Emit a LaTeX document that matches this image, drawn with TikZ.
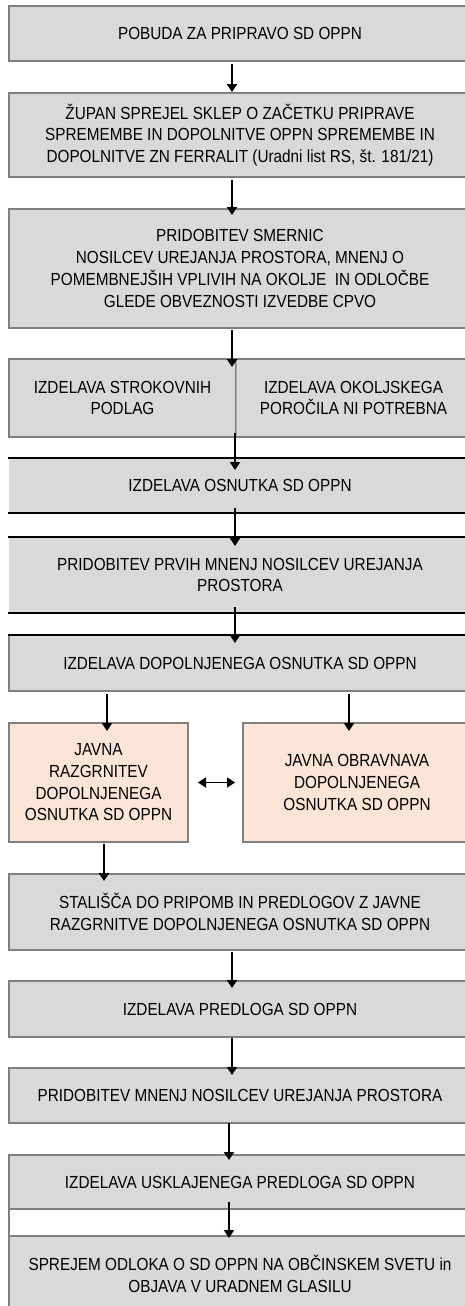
\documentclass[tikz,border=0pt]{standalone}
\usepackage{fontspec}
\setmainfont{Liberation Sans}[FakeStretch=0.875]
\usetikzlibrary{arrows.meta,calc}
\definecolor{boxgray}{HTML}{D9D9D9}
\definecolor{bordergray}{HTML}{808080}
\definecolor{pinkfill}{HTML}{FCE4D6}
\definecolor{divgray}{HTML}{A6A6A6}
\begin{document}
\begin{tikzpicture}[x=1pt,y=-1pt,
  base/.style={inner sep=0pt, outer sep=0pt, align=center, anchor=center,
    font=\fontsize{17.5}{21.7}\selectfont},
  stepbox/.style={base, draw=bordergray, line width=1.6pt, fill=boxgray},
  flatbox/.style={base, draw=none, fill=boxgray},
  pinkbox/.style={base, draw=bordergray, line width=1.6pt, fill=pinkfill},
  blackline/.style={line width=1.8pt, black},
  arr/.style={line width=1.8pt, black, -{Triangle[length=8pt,width=10pt]}},
  dblarr/.style={line width=1.8pt, black, {Triangle[length=8pt,width=10pt]}-{Triangle[length=8pt,width=10pt]}}
]
\useasboundingbox (0,0) rectangle (465,1306);
\fill[white] (0,0) rectangle (465,1306);
\clip (0,0) rectangle (465,1306);

% boxes
\node[stepbox, minimum width=462pt, minimum height=55pt] (b1) at (240,33.5) {POBUDA ZA PRIPRAVO SD OPPN};
\node[stepbox, minimum width=462pt, minimum height=84pt] (b2) at (240,135) {ŽUPAN SPREJEL SKLEP O ZAČETKU PRIPRAVE\\SPREMEMBE IN DOPOLNITVE OPPN SPREMEMBE IN\\DOPOLNITVE ZN FERRALIT (Uradni list RS, št. 181/21)};
\node[stepbox, minimum width=462pt, minimum height=119pt] (b3) at (240,268.5) {PRIDOBITEV SMERNIC\\NOSILCEV UREJANJA PROSTORA, MNENJ O\\POMEMBNEJŠIH VPLIVIH NA OKOLJE\ \ IN ODLOČBE\\GLEDE OBVEZNOSTI IZVEDBE CPVO};
\node[stepbox, minimum width=227pt, minimum height=78pt] (b4L) at (122.5,398) {IZDELAVA STROKOVNIH\\PODLAG};
\node[stepbox, minimum width=235pt, minimum height=78pt] (b4R) at (353.5,398) {IZDELAVA OKOLJSKEGA\\POROČILA NI POTREBNA};
\draw[divgray, line width=1pt] (b4L.north east) -- (b4L.south east);
\node[flatbox, minimum width=462pt, minimum height=55pt] (b5) at (240,485.5) {IZDELAVA OSNUTKA SD OPPN};
\node[flatbox, minimum width=462pt, minimum height=76pt] (b6) at (240,575) {PRIDOBITEV PRVIH MNENJ NOSILCEV UREJANJA\\PROSTORA};
\node[stepbox, minimum width=462pt, minimum height=56pt] (b7) at (240,663) {IZDELAVA DOPOLNJENEGA OSNUTKA SD OPPN};
\draw[blackline] ($(b5.north west)+(-1,0)$) -- (b5.north east);
\draw[blackline] ($(b5.south west)+(-1,0)$) -- (b5.south east);
\draw[blackline] ($(b6.north west)+(-1,0)$) -- (b6.north east);
\draw[blackline] ($(b6.south west)+(-1,0)$) -- (b6.south east);
\draw[blackline] ($(b7.north west)+(-1,0)$) -- (b7.north east);
\node[pinkbox, minimum width=179pt, minimum height=119pt] (b8) at (98.5,782.5) {JAVNA\\RAZGRNITEV\\DOPOLNJENEGA\\OSNUTKA SD OPPN};
\node[pinkbox, minimum width=228pt, minimum height=119pt] (b9) at (357,782.5) {JAVNA OBRAVNAVA\\DOPOLNJENEGA\\OSNUTKA SD OPPN};
\node[stepbox, minimum width=462pt, minimum height=76pt] (b10) at (240,912) {STALIŠČA DO PRIPOMB IN PREDLOGOV Z JAVNE\\RAZGRNITVE DOPOLNJENEGA OSNUTKA SD OPPN};
\node[stepbox, minimum width=462pt, minimum height=56pt] (b11) at (240,1009) {IZDELAVA PREDLOGA SD OPPN};
\node[stepbox, minimum width=462pt, minimum height=55pt] (b12) at (240,1095.5) {PRIDOBITEV MNENJ NOSILCEV UREJANJA PROSTORA};
\node[base, draw=bordergray, line width=1.6pt, fill=white, minimum width=462pt, minimum height=27pt] (gap) at (240,1222.5) {};
\node[stepbox, minimum width=462pt, minimum height=54pt] (b13) at (240,1182) {IZDELAVA USKLAJENEGA PREDLOGA SD OPPN};
\node[stepbox, minimum width=462pt, minimum height=76pt] (b14) at (240,1274) {SPREJEM ODLOKA O SD OPPN NA OBČINSKEM SVETU in\\OBJAVA V URADNEM GLASILU};

% arrows
\draw[arr] ($(b1.south)+(-8,3)$) -- ($(b2.north)+(-8,-1)$);
\draw[arr] ($(b2.south)+(-8,3)$) -- ($(b3.north)+(-8,6)$);
\draw[arr] ($(b3.south)+(-8,2)$) -- ($(b4L.north east)+(-4,8)$);
\draw[arr] ($(b4L.south east)+(-1,-4)$) -- ($(b5.north)+(-5,12)$);
\draw[arr] ($(b5.south)+(-5,-5)$) -- ($(b6.north)+(-5,9)$);
\draw[arr] ($(b6.south)+(-5,-6)$) -- ($(b7.north)+(-5,8)$);
\draw[arr] ($(b8.north |- b7.south)+(8.5,3)$) -- ($(b8.north)+(8.5,8)$);
\draw[arr] ($(b9.north |- b7.south)+(-8,3)$) -- ($(b9.north)+(-8,8)$);
\draw[dblarr] ($(b8.east)+(10,0)$) -- ($(b9.west)+(-8,0)$);
\draw[arr] ($(b8.south)+(5.5,2)$) -- ($(b8.south |- b10.north)+(5.5,7)$);
\draw[arr] ($(b10.south)+(-8,2)$) -- ($(b11.north)+(-8,7)$);
\draw[arr] ($(b11.south)+(-8,1)$) -- ($(b12.north)+(-8,7)$);
\draw[arr] ($(b12.south)+(-11,0)$) -- ($(b13.north)+(-11,5)$);
\draw[arr] ($(b13.south)+(-11,-7)$) -- ($(b14.north)+(-11,2)$);
\end{tikzpicture}
\end{document}
